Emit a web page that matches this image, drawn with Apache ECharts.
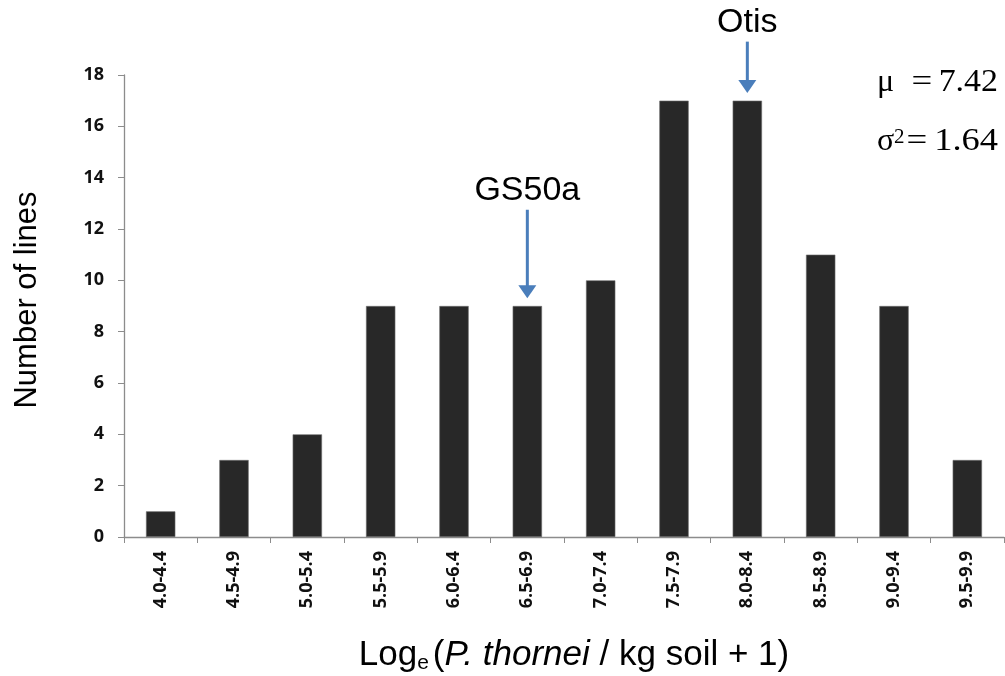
<!DOCTYPE html>
<html><head><meta charset="utf-8">
<script src="https://cdn.jsdelivr.net/npm/echarts@6/dist/echarts.min.js"></script>
<style>html,body{margin:0;padding:0;background:#fff}#c{width:1005px;height:676px}</style>
</head><body><div id="c"></div>
<script>
const categories = ['4.0-4.4','4.5-4.9','5.0-5.4','5.5-5.9','6.0-6.4','6.5-6.9','7.0-7.4','7.5-7.9','8.0-8.4','8.5-8.9','9.0-9.4','9.5-9.9'];
const counts = [1,3,4,9,9,9,10,17,17,11,9,3];
const yTicks = {min:0, max:18, interval:2};
const annotations = [
  {name:'GS50a', category:'6.5-6.9', from:12.75, to:9.3},
  {name:'Otis', category:'8.0-8.4', from:19.3, to:17.3}
];
const statSymbols = ['μ', 'σ'];
const statValues = ['7.42', '1.64'];

const chart = echarts.init(document.getElementById('c'), null, {renderer:'canvas'});
const axisColor = '#8c8c8c';
chart.setOption({
  animation:false,
  grid:{left:124, right:1, top:75, bottom:139, containLabel:false},
  xAxis:{type:'category', data:categories,
    axisLine:{lineStyle:{color:axisColor, width:1.3}},
    axisTick:{show:true, alignWithLabel:false, length:6, lineStyle:{color:axisColor}},
    axisLabel:{rotate:90, interval:0, margin:14, fontFamily:'Open Sans, DejaVu Sans', fontWeight:'bold', fontSize:18, color:'#111'}},
  yAxis:{type:'value', min:yTicks.min, max:yTicks.max, interval:yTicks.interval,
    splitLine:{show:false},
    axisLine:{show:true, lineStyle:{color:axisColor, width:1.3}},
    axisTick:{show:true, length:6, lineStyle:{color:axisColor}},
    axisLabel:{margin:20, fontFamily:'Open Sans, DejaVu Sans', fontWeight:'bold', fontSize:18, color:'#111'}},
  series:[{type:'bar', data:counts, barWidth:'40%',
    itemStyle:{color:'#282828', borderColor:'#6e6e6e', borderWidth:0.6}}]
});

function draw(){
  const g = [];
  annotations.forEach(a=>{
    const p1 = chart.convertToPixel({seriesIndex:0}, [a.category, a.from]);
    const p2 = chart.convertToPixel({seriesIndex:0}, [a.category, a.to]);
    const x = p1[0];
    g.push({type:'line', shape:{x1:x, y1:p1[1], x2:x, y2:p2[1]-10}, style:{stroke:'#4a7ebb', lineWidth:3}});
    g.push({type:'polygon', shape:{points:[[x-9,p2[1]-13],[x+9,p2[1]-13],[x,p2[1]]]}, style:{fill:'#4a7ebb'}});
    g.push({type:'text', x:x, y:p1[1]-19, style:{text:a.name, font:'34px "Liberation Sans", Arial', fill:'#000', align:'center', verticalAlign:'middle'}});
  });
  const serif = '32px "Liberation Serif", "Times New Roman"';
  const rows = [83, 142];
  const eqX = [922, 917];
  const valScale = [1.06, 1.14];
  rows.forEach((y,i)=>{
    g.push({type:'text', x:877, y:y, style:{text:statSymbols[i], font:serif, fill:'#000', align:'left', verticalAlign:'middle'}});
    g.push({type:'text', x:eqX[i], y:y, scaleX:1.15, style:{text:'=', font:serif, fill:'#000', align:'center', verticalAlign:'middle'}});
    g.push({type:'text', x:998, y:y, scaleX:valScale[i], style:{text:statValues[i], font:serif, fill:'#000', align:'right', verticalAlign:'middle'}});
  });
  g.push({type:'text', x:894, y:137, style:{text:'2', font:'21px "Liberation Serif", "Times New Roman"', fill:'#000', align:'left', verticalAlign:'middle'}});
  g.push({type:'text', x:27, y:300, rotation:Math.PI/2, style:{text:'Number of lines', font:'31px "Liberation Sans", Arial', fill:'#000', align:'center', verticalAlign:'middle'}});
  g.push({type:'text', x:574, y:655, style:{
    text:'{a|Log}{s|e}{a|(}{i|P. thornei}{a| / kg soil + 1)}',
    align:'center', verticalAlign:'middle',
    rich:{a:{font:'35px "Liberation Sans", Arial', fill:'#000'}, s:{font:'21px "Liberation Sans", Arial', fill:'#000', padding:[16,4,0,0]}, i:{font:'italic 35px "Liberation Sans", Arial', fill:'#000'}}
  }});
  chart.setOption({graphic:g});
}
draw();
</script></body></html>
